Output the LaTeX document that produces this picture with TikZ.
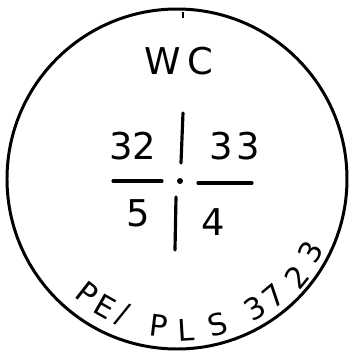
\documentclass[tikz,border=0pt]{standalone}
\usepackage{fontspec}
\setmainfont{DejaVu Sans}
\begin{document}
\begin{tikzpicture}[x=0.02cm, y=0.02cm,
    rim/.style={line width=1.7pt},
    bar/.style={line width=1.8pt, line cap=round},
    lbl/.style={inner sep=0pt, font=\fontsize{21}{21}\selectfont},
    rimlbl/.style={inner sep=0pt, font=\fontsize{17}{17}\selectfont}
]
    \useasboundingbox (-177,-174) rectangle (173,179);
    \draw[rim] (0,0) coordinate (c) circle (170);
    \draw[line width=1.2pt] (6,167) -- (6,161);

    \node[lbl] (wc) at (2,118) {W\kern4pt C};

    % cross
    \draw[bar] (6,66) -- (4,16);
    \draw[bar] (-1,-18) -- (-2,-71);
    \draw[bar] (-64,-2) -- (-15,-2);
    \draw[bar] (21,-4) -- (75,-4);
    \fill (3,-2) coordinate (dot) circle (3);

    \node[lbl] (nw) at (-44,33) {32};
    \node[lbl] (ne) at (58,33) {3\kern2pt 3};
    \node[lbl] (sw) at (-39,-34) {5};
    \node[lbl] (se) at (36,-43) {4};

    % lettering round the rim
    \foreach \ch/\ang/\rad [count=\i] in {P/232/145, E/240.6/147, {/}/248.3/146,
        P/263/148, L/273.4/151, S/285.7/151, 3/301.2/151, 7/309.7/152,
        2/320.9/155, 3/331.2/152}
        \node[rimlbl, rotate=\ang+90] (r\i) at (\ang:\rad) {\ch};
\end{tikzpicture}
\end{document}
